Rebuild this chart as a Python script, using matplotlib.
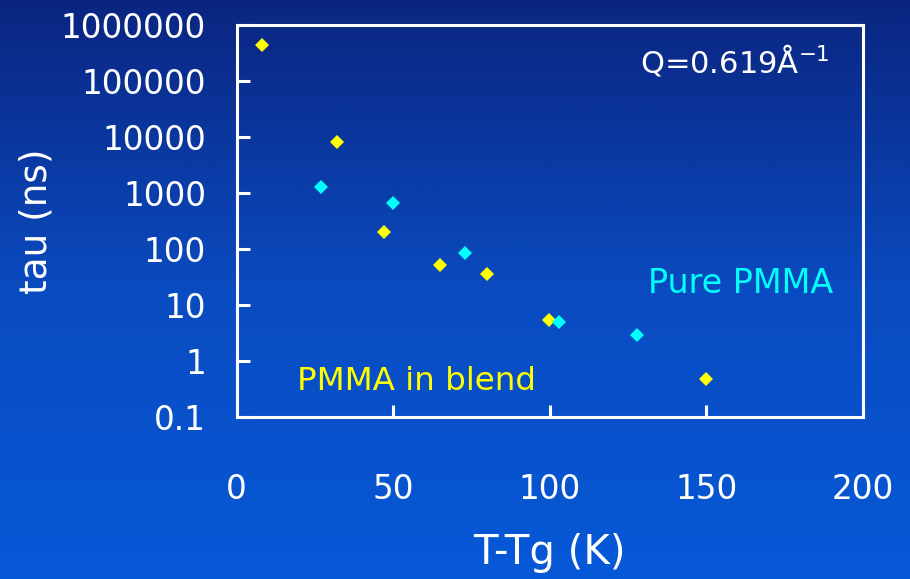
import numpy as np
import matplotlib
matplotlib.use("Agg")
import matplotlib.pyplot as plt
from matplotlib.colors import LinearSegmentedColormap

# Relaxation times vs. distance from Tg
blend_T = [8.0, 32.1, 47.1, 64.9, 80.0, 99.9, 149.9]
blend_tau = [440000, 8200, 199, 52, 36, 5.4, 0.48]
pure_T = [27.0, 50.0, 73.0, 103.1, 127.8]
pure_tau = [1300, 655, 85, 5.0, 2.9]

x_ticks = [0, 50, 100, 150, 200]
y_ticks = [0.1, 1, 10, 100, 1000, 10000, 100000, 1000000]
y_tick_labels = ["0.1", "1", "10", "100", "1000", "10000", "100000", "1000000"]

plt.rcParams["font.family"] = ["DejaVu Sans"]

fig = plt.figure(figsize=(9.10, 5.79), dpi=100)

# vertical blue gradient behind everything
bg = fig.add_axes([0, 0, 1, 1], zorder=-10)
cmap = LinearSegmentedColormap.from_list("slide", ["#0a2580", "#0a4bc0", "#0659d8"])
grad = np.linspace(0, 1, 256).reshape(-1, 1)
bg.imshow(grad, aspect="auto", cmap=cmap, extent=[0, 1, 1, 0])
bg.set_axis_off()

ax = fig.add_axes([0.2599, 0.2798, 0.6885, 0.6770])
ax.patch.set_alpha(0)

ax.plot(blend_T, blend_tau, linestyle="none", marker="D", markersize=7.5,
        color="#ffff00", markeredgewidth=0)
ax.plot(pure_T, pure_tau, linestyle="none", marker="D", markersize=7.5,
        color="#00ffff", markeredgewidth=0)

ax.set_yscale("log")
ax.set_xlim(0, 200)
ax.set_ylim(0.1, 1000000)
ax.set_xticks(x_ticks)
ax.set_xticklabels([str(v) for v in x_ticks])
ax.set_yticks(y_ticks)
ax.set_yticklabels(y_tick_labels)
ax.yaxis.set_minor_locator(matplotlib.ticker.NullLocator())

for s in ax.spines.values():
    s.set_color("white")
    s.set_linewidth(2.2)

ax.tick_params(axis="both", direction="in", colors="white", width=2.2,
               length=9, labelsize=23.5)
ax.tick_params(axis="x", pad=40)
ax.tick_params(axis="y", pad=22)

ax.set_xlabel("T-Tg (K)", color="white", fontsize=29, labelpad=20)
ax.set_ylabel("tau (ns)", color="white", fontsize=27, va="center")
ax.yaxis.set_label_coords(-0.32, 0.5)

ax.text(0.947, 0.878, "Q=0.619Å$^{-1}$", transform=ax.transAxes,
        color="white", fontsize=22, ha="right", va="baseline")
ax.text(0.953, 0.316, "Pure PMMA", transform=ax.transAxes,
        color="#00ffff", fontsize=24, ha="right", va="baseline")
ax.text(0.0966, 0.069, "PMMA in blend", transform=ax.transAxes,
        color="#ffff00", fontsize=23.4, ha="left", va="baseline")

fig.savefig("out.png", dpi=100)
